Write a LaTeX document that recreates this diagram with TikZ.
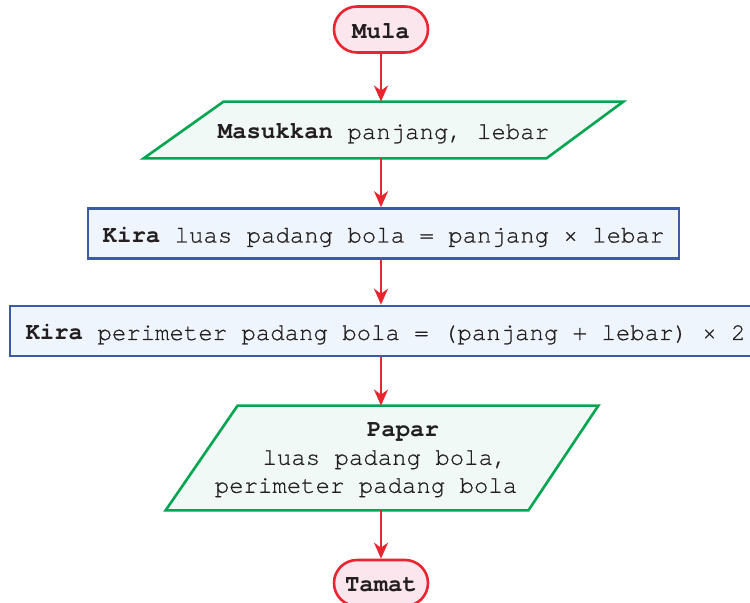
\documentclass[tikz,border=0pt]{standalone}
\usepackage{fontspec}
\setmonofont{texgyrecursor}[Extension=.otf, UprightFont=*-regular, BoldFont=*-bold, UprightFeatures={FakeBold=0.6}]
\usetikzlibrary{arrows.meta,backgrounds,shapes.misc}
\definecolor{termred}{HTML}{E82530}
\definecolor{termfill}{HTML}{FCE6EE}
\definecolor{iogreen}{HTML}{00A552}
\definecolor{iofill}{HTML}{F0F9F6}
\definecolor{procblue}{HTML}{3D5AA8}
\definecolor{procfill}{HTML}{EEF5FC}
\definecolor{txt}{HTML}{231F20}
\begin{document}
\begin{tikzpicture}[x=0.5pt,y=-0.5pt,
  font=\ttfamily\fontsize{12}{14}\selectfont, text=txt,
  terminal/.style={rounded rectangle, draw=termred, fill=termfill, line width=1.3pt,
    minimum width=47pt, minimum height=23pt, inner sep=0pt, text height=9pt, text depth=0pt},
  process/.style={rectangle, draw=procblue, fill=procfill, line width=1.3pt,
    minimum height=25pt, inner sep=0pt, text height=9pt, text depth=0pt},
  iobox/.style={rectangle, inner sep=0pt, text height=9pt, text depth=0pt},
  iopath/.style={draw=iogreen, fill=iofill, line width=1.3pt, line join=miter},
  flow/.style={draw=termred, line width=1.2pt, -{Stealth[length=8pt,width=7pt,inset=2.5pt]}}]
\useasboundingbox (0,0) rectangle (750,603);

\node[terminal] (mula) at (381,29.5) {\textbf{Mula}};

\node[iobox, minimum width=239.5pt, minimum height=28pt] (in) at (383.5,130) {\textbf{Masukkan} panjang, lebar};
\begin{scope}[on background layer]
  \path[iopath] ([xshift=40pt]in.north west) -- (in.north east) -- ([xshift=-38.5pt]in.south east) -- (in.south west) -- cycle;
\end{scope}

\node[process, minimum width=295.5pt] (luas) at (383.5,233.5) {\textbf{Kira} luas padang bola = panjang × lebar};

\node[process, minimum width=375.5pt] (peri) at (385.5,331) {\textbf{Kira} perimeter padang bola = (panjang + lebar) × 2};

\node[iobox, minimum width=216pt, minimum height=52pt] (out) at (382,458) {};
\begin{scope}[on background layer]
  \path[iopath] ([xshift=36pt]out.north west) -- (out.north east) -- ([xshift=-35pt]out.south east) -- (out.south west) -- cycle;
\end{scope}
\node[align=center, inner sep=0pt] (outtext) at (366,460) {\hspace*{37pt}\textbf{Papar}\\ \hspace*{19pt}luas padang bola,\\ perimeter padang bola};

\node[terminal] (tamat) at (381,583) {\textbf{Tamat}};

\draw[flow] (mula.south) -- (mula.south |- in.north);
\draw[flow] (mula.south |- in.south) -- (mula.south |- luas.north);
\draw[flow] (mula.south |- luas.south) -- (mula.south |- peri.north);
\draw[flow] (mula.south |- peri.south) -- (mula.south |- out.north);
\draw[flow] (mula.south |- out.south) -- (tamat.north);
\end{tikzpicture}
\end{document}
